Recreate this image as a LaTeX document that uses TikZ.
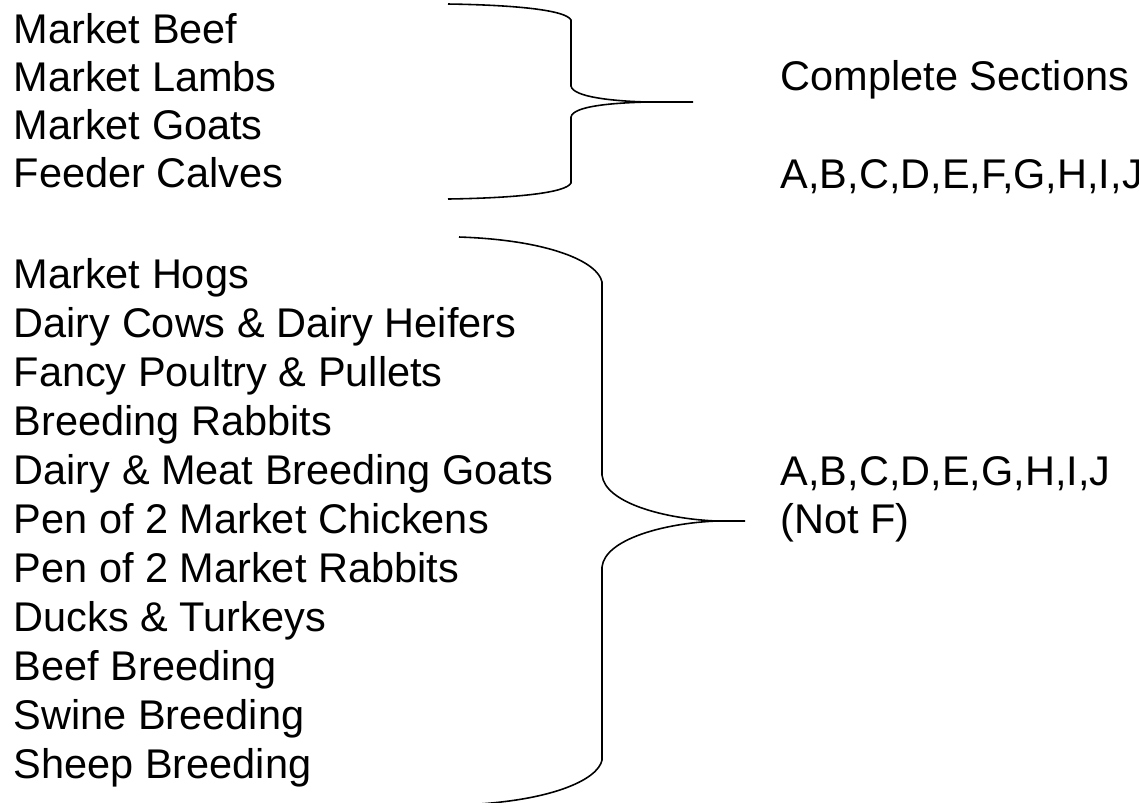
\documentclass[tikz,border=0pt]{standalone}
\usepackage{fontspec}
\setmainfont{Liberation Sans}
\tikzset{
  item/.style={anchor=base west, inner sep=0, font=\fontsize{11.8}{14}\selectfont},
  brace/.style={line width=0.45pt}
}
\begin{document}
\begin{tikzpicture}[x=0.01cm, y=-0.01cm]
   \useasboundingbox (0,0) rectangle (1139,802);
   % upper group
   \foreach \txt [count=\i] in {Market Beef, Market Lambs, Market Goats, Feeder Calves}
      \node[item] (u\i) at (13,{43+48.3*(\i-1)}) {\txt};
   \node[item] (usec) at (780,90) {Complete Sections};
   \node[item] (ulist) at (780,188) {A,B,C,D,E,F,G,H,I,J};
   \draw[brace] (448,4) .. controls (515,5) and (566,10) .. (571,20) -- (571,86)
      .. controls (573,97) and (612,101) .. (647,102) coordinate (utip) -- (693,102);
   \draw[brace] (utip) .. controls (612,103) and (573,106) .. (571,117) -- (571,183)
      .. controls (566,193) and (515,198) .. (448,199);
   % lower group
   \foreach \txt [count=\i] in {Market Hogs, Dairy Cows \& Dairy Heifers, Fancy Poultry \& Pullets,
      Breeding Rabbits, Dairy \& Meat Breeding Goats, Pen of 2 Market Chickens, Pen of 2 Market Rabbits,
      Ducks \& Turkeys, Beef Breeding, Swine Breeding, Sheep Breeding}
      \node[item] (l\i) at (13,{288+49*(\i-1)}) {\txt};
   \node[item] (llist) at (780,485) {A,B,C,D,E,G,H,I,J};
   \node[item] (lnot) at (780,533) {(Not F)};
   \draw[brace] (459,237) .. controls (550,240) and (598,262) .. (602,282) -- (602,475)
      .. controls (605,503) and (665,519) .. (717,521) coordinate (ltip) -- (745,521);
   \draw[brace] (ltip) .. controls (665,523) and (605,539) .. (602,567) -- (602,760)
      .. controls (598,780) and (550,802) .. (459,805);
\end{tikzpicture}
\end{document}
